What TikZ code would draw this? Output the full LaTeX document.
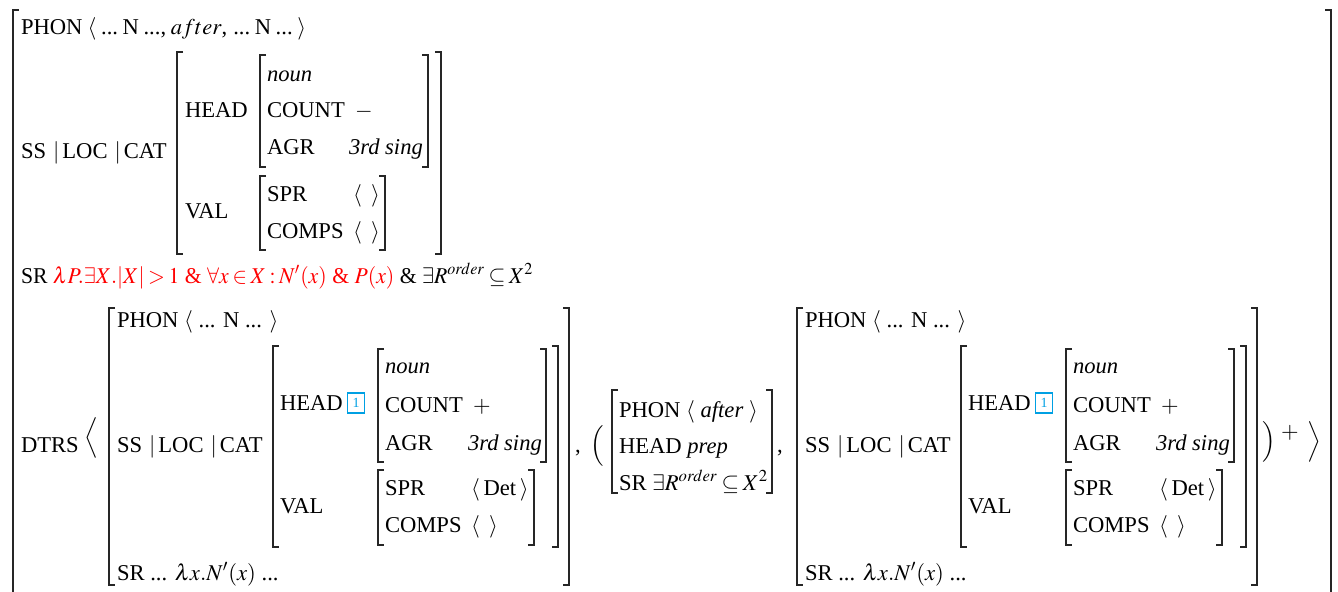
\documentclass[tikz,border=0pt]{standalone}
\usepackage{mathptmx}
\usepackage{fontspec}
\setmainfont{Liberation Serif}
\thickmuskip=3mu plus 2mu
\definecolor{boxcol}{RGB}{0,160,227}
\definecolor{srred}{RGB}{255,0,0}
\tikzset{
  txt/.style={anchor=base west, inner sep=0pt, outer sep=0pt, font=\fontsize{11.3}{13}\selectfont},
  delim/.style={anchor=center, inner sep=0pt, outer sep=0pt, font=\fontsize{11.3}{13}\selectfont},
  br/.style={line width=0.7pt, black!85, line cap=butt},
  tagbox/.style={draw=boxcol, line width=0.9pt, text=boxcol, inner sep=0pt,
    minimum width=8.5pt, minimum height=10pt, font=\fontsize{7}{8}\selectfont},
}
\newcommand\pathsep{SS\hspace{3.5pt}$|$\hspace{1.5pt}LOC\hspace{3.5pt}$|$\hspace{1.5pt}CAT}
% left bracket: x, top, bottom ; right bracket: x, top, bottom
\newcommand\avmL[3]{\draw[br] (#1+6,#2) -- (#1,#2) -- (#1,#3) -- (#1+6,#3);}
\newcommand\avmR[3]{\draw[br] (#1-6,#2) -- (#1,#2) -- (#1,#3) -- (#1-6,#3);}
\newcommand\avmdtr[2]{%
  % #1 = x offset, #2 = name prefix
  \avmL{109+#1}{308}{585}
  \avmR{569+#1}{308}{585}
  \node[txt] (#2phon) at (117+#1,327) {PHON $\langle$ ... N ... $\rangle$};
  \node[txt] (#2ss) at (117+#1,452) {\pathsep};
  \avmL{273+#1}{346}{547}
  \avmR{558+#1}{346}{547}
  \node[txt] (#2head) at (280+#1,410) {HEAD};
  \node[tagbox] (#2tag) at (356+#1,403) {1};
  \avmL{378+#1}{349}{462}
  \avmR{546+#1}{349}{462}
  \node[txt] (#2noun) at (385+#1,373) {\itshape noun};
  \node[txt] (#2count) at (385+#1,412) {COUNT};
  \node[txt] (#2plus) at (473+#1,412) {$+$};
  \node[txt] (#2agr) at (385+#1,450) {AGR};
  \node[txt] (#2sing) at (468+#1,450) {\itshape 3rd sing};
  \node[txt] (#2val) at (280+#1,513) {VAL};
  \avmL{378+#1}{470}{545}
  \avmR{534+#1}{470}{545}
  \node[txt] (#2spr) at (385+#1,495) {SPR};
  \node[txt] (#2det) at (471+#1,495) {$\langle$\,Det\,$\rangle$};
  \node[txt] (#2comps) at (385+#1,532) {COMPS};
  \node[txt] (#2empty) at (471+#1,532) {$\langle$\ \,$\rangle$};
  \node[txt] (#2sr) at (117+#1,580) {SR ... $\lambda x.N'(x)$ ...};
}
\begin{document}
\begin{tikzpicture}[x=0.5pt,y=-0.5pt]
\useasboundingbox (0,0) rectangle (1338,591);
% outer brackets
\draw[br] (19,10) -- (13,10) -- (13,595);
\draw[br] (1325,10) -- (1331,10) -- (1331,595);
% top row
\node[txt] (phon) at (21,34) {PHON\hspace{2.6pt}$\langle$\hspace{2.3pt}...\hspace{2.3pt}N\hspace{2.3pt}...,\hspace{2.3pt}$after$,\hspace{3pt}...\hspace{2.3pt}N\hspace{2.3pt}...\hspace{2.3pt}$\rangle$};
\node[txt] (ss) at (21,158) {\pathsep};
\avmL{177}{52}{254}
\avmR{441}{52}{254}
\node[txt] (head) at (185,117) {HEAD};
\avmL{260}{55}{167}
\avmR{428}{55}{167}
\node[txt] (noun) at (267,81) {\itshape noun};
\node[txt] (count) at (267,117) {COUNT};
\node[txt] (minus) at (355,117) {$-$};
\node[txt] (agr) at (267,154) {AGR};
\node[txt] (sing) at (349,154) {\itshape 3rd sing};
\node[txt] (val) at (185,218) {VAL};
\avmL{260}{176}{250}
\avmR{385}{176}{250}
\node[txt] (spr) at (267,201) {SPR};
\node[txt] (sprv) at (353,201) {$\langle$\ \,$\rangle$};
\node[txt] (comps) at (267,238) {COMPS};
\node[txt] (compsv) at (353,238) {$\langle$\ \,$\rangle$};
% SR row
\node[txt] (sr) at (21,283) {\scalebox{0.96}[1]{SR \textcolor{srred}{$\lambda P.\exists X.|X|>1$ \& $\forall x\in X: N'(x)$ \& $P(x)$} \& $\exists R^{order}\subseteq X^2$}};
% DTRS row
\node[txt] (dtrs) at (21,452) {DTRS};
\node[delim] (lang) at (91,438) {$\Big\langle$};
\avmdtr{0}{a}
\node[txt] (comma1) at (575,452) {,};
\node[delim] (lpar) at (597,446) {$\Big($};
\avmL{612}{390}{493}
\avmR{772}{390}{493}
\node[txt] (mphon) at (619,417) {PHON $\langle$ \textit{after} $\rangle$};
\node[txt] (mhead) at (619,453) {HEAD \textit{prep}};
\node[txt] (msr) at (619,490) {SR $\exists R^{order}\subseteq X^2$};
\node[txt] (comma2) at (777,452) {,};
\avmdtr{688}{b}
\node[delim] (rpar) at (1269,442) {$\Big)$};
\node[txt] (plus) at (1281,438) {$+$};
\node[delim] (rang) at (1314,442) {$\Big\rangle$};
\end{tikzpicture}
\end{document}
